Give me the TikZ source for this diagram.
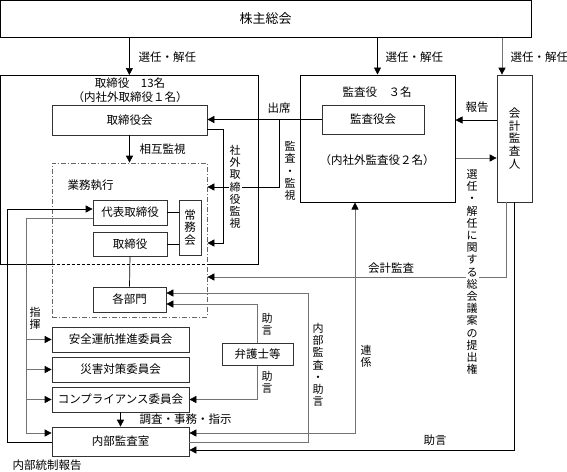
\documentclass[tikz,border=0pt]{standalone}
\usepackage{fontspec}
\setmainfont{Noto Sans CJK JP}
\usetikzlibrary{arrows.meta,calc,positioning}
\tikzset{
  box/.style={draw=black!80,line width=0.7pt,inner sep=0pt},
  outer/.style={draw=black,line width=1pt,inner sep=0pt},
  arr/.style={-{Triangle[length=7pt,width=7pt,color=black]}},
  arrb/.style={{Triangle[length=7pt,width=7pt,color=black]}-{Triangle[length=7pt,width=7pt,color=black]}},
  gr/.style={draw=black!55},
  tate/.style={align=center,inner sep=1pt,fill=white,font=\fontsize{11}{12.2}\selectfont},
}

\begin{document}
\begin{tikzpicture}[x=1pt,y=-1pt,line width=0.7pt,every node/.style={font=\fontsize{11.5}{12}\selectfont}]
\useasboundingbox (0,0) rectangle (567,471);

% 株主総会
\node[outer,minimum width=531pt,minimum height=37pt] (soukai) at (265.5,18.5) {\fontsize{13}{14}\selectfont 株主総会};

% 取締役
\node[inner sep=0pt,minimum width=258pt,minimum height=189pt,anchor=north west] (tori) at (0,75) {};
\node at (130,83) {取締役　13名};
\node at (130,97) {（内社外取締役１名）};
\node[box,minimum width=155pt,minimum height=30pt] (torikai) at (129.5,120) {取締役会};
\node[box,draw=black!60,dash pattern=on 5pt off 2pt on 1pt off 2pt,minimum width=155pt,minimum height=154pt] (gyomu) at (129.5,240) {};
\node[anchor=west] at (64,185) {業務執行};
\node[box,minimum width=74pt,minimum height=25pt] (daihyo) at (130,212.5) {代表取締役};
\node[box,minimum width=74pt,minimum height=24pt] (torishimari) at (130,244) {取締役};
\node[box,align=center,minimum width=22pt,minimum height=55pt,font=\fontsize{11.5}{12.5}\selectfont] (jomu) at (190,227.5) {常\\務\\会};
\node[box,minimum width=73pt,minimum height=25pt] (bumon) at (129.5,299.5) {各部門};
\draw[line width=1pt] (gyomu.west |- tori.south) -| (tori.north west) -| (tori.south east) -- (gyomu.east |- tori.south);
\draw[dash pattern=on 3pt off 2pt] (gyomu.west |- tori.south) -- (gyomu.east |- tori.south);

% 監査役・会計監査人
\node[outer,minimum width=155pt,minimum height=127pt] (kansa) at (377.5,138.5) {};
\node at (377,92) {監査役　３名};
\node[box,minimum width=102pt,minimum height=29pt] (kansakai) at (373,119.5) {監査役会};
\node at (377,160) {（内社外監査役２名）};
\node[box,align=center,minimum width=35pt,minimum height=127pt,font=\fontsize{11.5}{12.8}\selectfont] (kaikei) at (514.5,138.5) {会\\計\\監\\査\\人};

% 委員会・内部監査室
\node[box,minimum width=137pt,minimum height=25pt] (anzen) at (120.5,339.5) {安全運航推進委員会};
\node[box,minimum width=137pt,minimum height=25pt] (saigai) at (120.5,369.5) {災害対策委員会};
\node[box,minimum width=137pt,minimum height=25pt] (compl) at (120.5,399.5) {コンプライアンス委員会};
\node[box,minimum width=137pt,minimum height=29pt] (naibu) at (120.5,441.5) {内部監査室};
\node[box,minimum width=71pt,minimum height=22pt] (bengoshi) at (257.5,354.5) {弁護士等};

% 選任・解任
\draw[arr] (soukai.south -| tori.north) -- (tori.north);
\draw[arr] (soukai.south -| kansa.north) -- (kansa.north);
\draw[arr,gr] (soukai.south -| 502,0) -- (kaikei.north -| 502,0);
\node[anchor=west] at (135,57) {選任・解任};
\node[anchor=west] at (382,57) {選任・解任};
\node[anchor=west] at (507,57) {選任・解任};

\draw[arr] (torikai.south) -- (gyomu.north);
\node[anchor=west] at (136,149) {相互監視};
\draw[arr] (torikai.east |- 0,129) -| (223,243) -- (gyomu.east |- 0,243);
\draw[arr] (kansakai.west) -- (torikai.east |- kansakai.west);
\draw[arr] (kansakai.west -| 279,0) |- (gyomu.east |- 0,187);
\node at (279,108) {出席};
\draw (daihyo.east) -- (jomu.west |- daihyo.east);
\draw (torishimari.east) -- (jomu.west |- torishimari.east);
\draw (torishimari.south) -- (bumon.north);

\draw[arr] (kaikei.west |- 0,120) -- (kansa.east |- 0,120);
\node at (477,107) {報告};
\draw[arr,gr] (kansa.east |- 0,158) -- (kaikei.west |- 0,158);
\draw[arr,gr] (kaikei.south -| 506,0) |- (gyomu.east |- 0,277);
\node at (391,268) {会計監査};
\draw[arr] (kaikei.south -| 514,0) |- (naibu.east |- 0,450);
\node at (435,440) {助言};

% 内部監査室まわり
\draw[arrb,gr] (kansa.south -| 355,0) |- (naibu.east |- 0,433);
\draw[arr,gr] (naibu.east |- 0,442) -| (308,293) -- (bumon.east |- 0,293);
\draw[arr,gr] (bengoshi.north) |- (bumon.east |- 0,304);
\draw[arr,gr] (bengoshi.south) |- (compl.east);
\draw[arr] (compl.south) -- (naibu.north);
\node[anchor=west] at (136,419) {調査・事務・指示};

% 指揮・内部統制報告
\draw[arr] (naibu.west |- 0,442) -| (7,209) -- (daihyo.west |- 0,209);
\draw[arr,gr] (daihyo.west |- 0,218) -| (26,433) -- (naibu.west |- 0,433);
\foreach \n in {anzen,saigai,compl}
  \draw[arr,gr] (\n.west -| 26,0) -- (\n.west);
\node[anchor=west] at (9,465) {内部統制報告};

% 縦書きラベル
\node[tate] at (35,318) {指\\揮};
\node[tate] at (235,187) {社\\外\\取\\締\\役\\監\\視};
\node[tate] at (290,171) {監\\査\\・\\監\\視};
\node[tate] at (267,324) {助\\言};
\node[tate] at (267,382) {助\\言};
\node[tate] at (318,365) {内\\部\\監\\査\\・\\助\\言};
\node[tate] at (366,356) {連\\係};
\node[tate] at (472,272) {選\\任\\・\\解\\任\\に\\関\\す\\る\\総\\会\\議\\案\\の\\提\\出\\権};
\end{tikzpicture}
\end{document}
